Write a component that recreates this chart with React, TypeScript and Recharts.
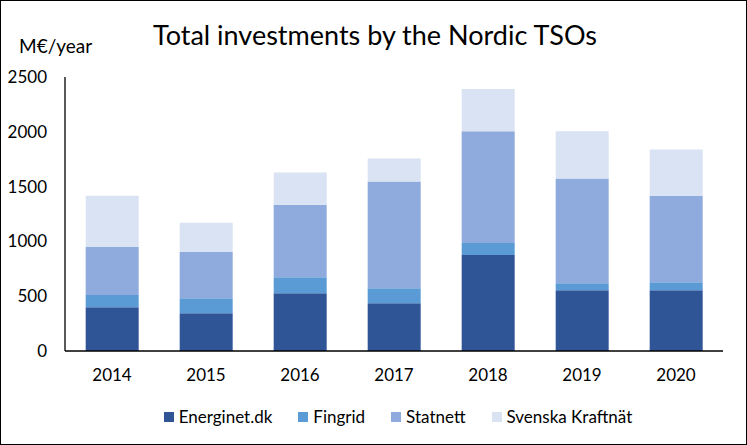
import React from 'react';
import { BarChart, Bar, XAxis, YAxis } from 'recharts';

const years = ['2014', '2015', '2016', '2017', '2018', '2019', '2020'];
const energinet = [400, 345, 528, 436, 876, 555, 555];
const fingrid = [110, 137, 146, 137, 110, 64, 73];
const statnett = [440, 422, 661, 973, 1019, 954, 789];
const svenska = [467, 266, 293, 211, 385, 432, 422];
const yTicks = [0, 500, 1000, 1500, 2000, 2500];

const series = [
  { key: 'energinet', name: 'Energinet.dk', color: '#2F5597' },
  { key: 'fingrid', name: 'Fingrid', color: '#5B9BD5' },
  { key: 'statnett', name: 'Statnett', color: '#8FAADC' },
  { key: 'svenska', name: 'Svenska Kraftnät', color: '#DAE3F3' },
];

const data = years.map((year, i) => ({
  year,
  energinet: energinet[i],
  fingrid: fingrid[i],
  statnett: statnett[i],
  svenska: svenska[i],
}));

const FONT = 'Lato, "Open Sans", sans-serif';

const App: React.FC = () => {
  return (
    <div
      style={{
        position: 'fixed',
        left: 0,
        top: 0,
        width: 747,
        height: 445,
        boxSizing: 'border-box',
        border: '1px solid #000',
        background: '#fff',
        fontFamily: FONT,
        color: '#000',
      }}
    >
      <div
        style={{
          position: 'absolute',
          left: 152,
          top: 17,
          fontSize: 27,
          whiteSpace: 'nowrap',
        }}
      >
        Total investments by the Nordic TSOs
      </div>
      <div
        style={{
          position: 'absolute',
          left: 18,
          top: 33,
          fontSize: 19,
          whiteSpace: 'nowrap',
        }}
      >
        M€/year
      </div>
      <div style={{ position: 'absolute', left: -1, top: -1 }}>
        <BarChart
          width={747}
          height={445}
          data={data}
          margin={{ top: 77, right: 24, left: 0, bottom: 64 }}
          barCategoryGap="22%"
        >
          <XAxis
            dataKey="year"
            height={30}
            axisLine={{ stroke: '#000', strokeWidth: 1.3 }}
            tickLine={false}
            tickSize={0}
            tickMargin={18}
            tick={{ fill: '#000', fontSize: 17, fontFamily: FONT }}
          />
          <YAxis
            width={65}
            domain={[0, 2500]}
            ticks={yTicks}
            axisLine={{ stroke: '#000', strokeWidth: 1.3 }}
            tickLine={false}
            tickSize={0}
            tickMargin={18}
            tick={{ fill: '#000', fontSize: 17, fontFamily: FONT }}
          />
          {series.map((s) => (
            <Bar
              key={s.key}
              dataKey={s.key}
              name={s.name}
              stackId="a"
              fill={s.color}
              isAnimationActive={false}
            />
          ))}
        </BarChart>
      </div>
      {/* legend drawn outside the chart so it doesn't shrink the plot area */}
      <div
        style={{
          position: 'absolute',
          left: 49,
          right: 0,
          top: 405,
          display: 'flex',
          justifyContent: 'center',
          fontSize: 17,
        }}
      >
        {series.map((s, i) => (
          <div
            key={s.key}
            style={{
              display: 'flex',
              alignItems: 'center',
              marginLeft: i === 0 ? 0 : 26,
            }}
          >
            <span
              style={{
                display: 'inline-block',
                width: 10,
                height: 10,
                background: s.color,
                marginRight: 5,
              }}
            />
            {s.name}
          </div>
        ))}
      </div>
    </div>
  );
};

export default App;
